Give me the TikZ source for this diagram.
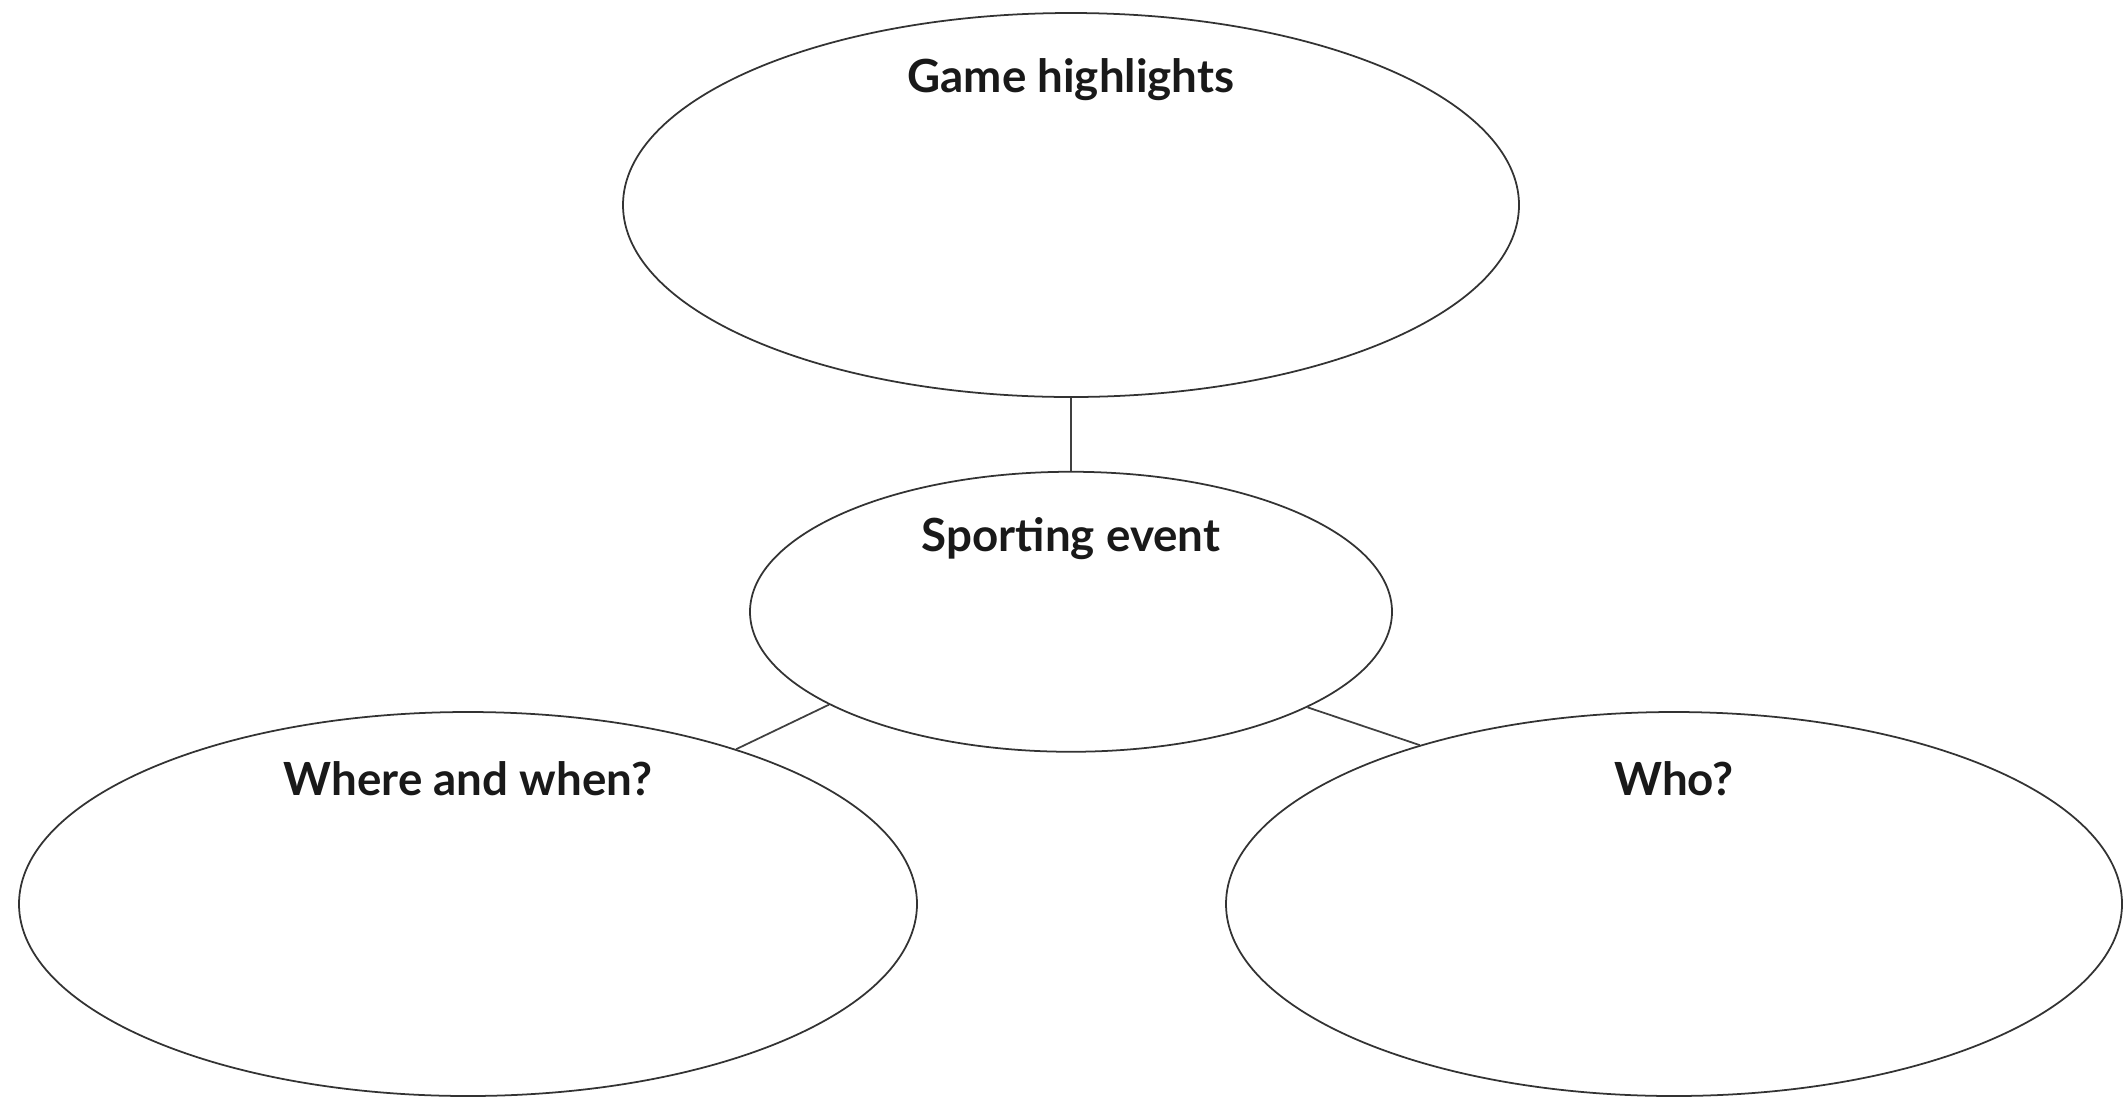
\documentclass[tikz,border=0pt]{standalone}
\usepackage{fontspec}
\setmainfont{Lato}
\usetikzlibrary{shapes.geometric,positioning}

\begin{document}
\begin{tikzpicture}[
	font=\bfseries\fontsize{13}{15}\selectfont, % title text
	line width=0.5pt % thin outlines
	]
	
	\tikzstyle{bubble}=[
	ellipse,
	draw = black!80,
	fill = white,
	inner sep = 0pt,
	minimum width = 8.96cm,
	minimum height = 3.84cm
	]
	\tikzstyle{title}=[anchor=center, yshift=-0.68cm, text=black!90]
	
	\useasboundingbox (0,0) rectangle (21.24,-11.02);
	
	\node[bubble, label={[title]north:Game highlights}] (qGame) at (10.71,-2.05) {};
	\node[bubble, minimum width=6.42cm, minimum height=2.80cm, label={[title]north:Sporting event}] (qEvent) [below=0.73cm of qGame] {};
	\node[bubble, minimum width=8.98cm, label={[title]north:Where and when?}] (qWhere) at (4.68,-9.04) {};
	\node[bubble, label={[title]north:Who?}] (qWho) at (16.74,-9.04) {};
	
	\path[draw=black!75] 	
	(qGame) 	edge [] (qEvent)
	(qEvent.201.7) 	edge [] (qWhere.30.9)
	(qEvent.338.1) 	edge [] (qWho.148.6);
	
\end{tikzpicture}
\end{document}
